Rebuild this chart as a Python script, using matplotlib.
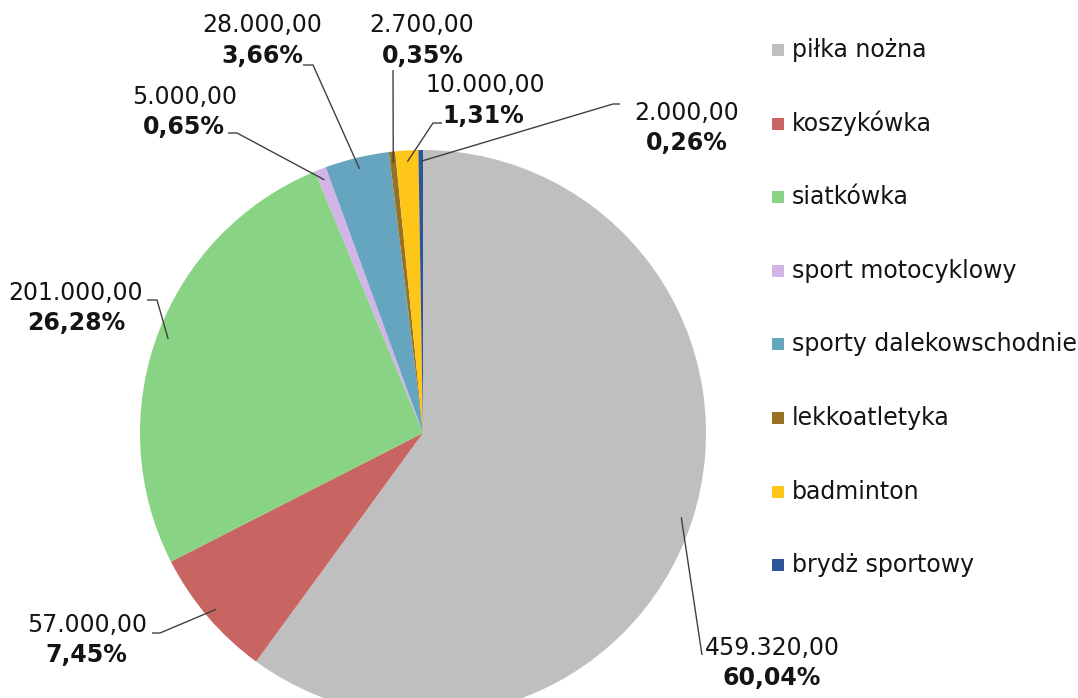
import numpy as np
import matplotlib
matplotlib.use("Agg")
import matplotlib.pyplot as plt
from matplotlib.patches import Rectangle

categories = ["piłka nożna", "koszykówka", "siatkówka", "sport motocyklowy",
              "sporty dalekowschodnie", "lekkoatletyka", "badminton", "brydż sportowy"]
values = [459320.00, 57000.00, 201000.00, 5000.00, 28000.00, 2700.00, 10000.00, 2000.00]
colors = ["#BFBFBF", "#C86461", "#88D484", "#D2B4E6", "#65A5BF", "#977224", "#FFC61A", "#2E5597"]

# label layout (pixel coords): value-text centre, percent-text centre, leader start points
label_val_pos = [(772, 648), (87, 625), (76, 293), (185, 97), (262, 25), (422, 25), (485, 85), (687, 113)]
label_pct_pos = [(772, 678), (86, 655), (76, 323), (184, 127), (262, 56), (423, 56), (483, 116), (687, 143)]
leader_start = [[(702, 655)], [(152, 633), (160, 633)], [(147, 300), (157, 300)],
                [(228, 133), (237, 133)], [(303, 65), (313, 65)], [(393, 70)],
                [(442, 123), (433, 123)], [(620, 104), (613, 104)]]

W, H = 1078, 698
fig = plt.figure(figsize=(W / 100, H / 100), dpi=100)
ax = fig.add_axes([0, 0, 1, 1])
ax.set_xlim(0, W)
ax.set_ylim(0, H)
ax.set_aspect("equal")
ax.axis("off")

def py(y):
    return H - y

cx, cy, R = 423, py(433), 283
wedges, _ = ax.pie(values, colors=colors, startangle=90, counterclock=False,
                   center=(cx, cy), radius=R, frame=True,
                   wedgeprops=dict(linewidth=0))
ax.set_xlim(0, W)
ax.set_ylim(0, H)
ax.axis("off")

# percentages rounded to 0.01 so that they sum to 100 (largest remainder)
total = sum(values)
raw = np.array(values) / total * 10000
fl = np.floor(raw).astype(int)
rem = raw - fl
short = 10000 - fl.sum()
for j in np.argsort(-rem)[:short]:
    fl[j] += 1
pcts = fl / 100

def fmt_pl(v):
    s = f"{v:,.2f}"
    return s.replace(",", " ").replace(".", ",").replace(" ", ".")

txt_color = "#141414"
for i, w in enumerate(wedges):
    mid = np.deg2rad((w.theta1 + w.theta2) / 2)
    ax_x = cx + 0.96 * R * np.cos(mid)
    ax_y = cy + 0.96 * R * np.sin(mid)
    pts = [(x, py(y)) for x, y in leader_start[i]] + [(ax_x, ax_y)]
    xs, ys = zip(*pts)
    ax.plot(xs, ys, color="#404040", lw=1.0, solid_capstyle="butt")
    vx, vy = label_val_pos[i]
    px_, pyy = label_pct_pos[i]
    ax.text(vx, py(vy), fmt_pl(values[i]), ha="center", va="center",
            fontsize=17, color=txt_color)
    pct = f"{pcts[i]:.2f}".replace(".", ",") + "%"
    ax.text(px_, py(pyy), pct, ha="center", va="center", fontsize=17,
            fontweight="bold", color=txt_color)

# legend
leg_y0, leg_dy = 50, 73.6
for i, (c, name) in enumerate(zip(colors, categories)):
    yy = leg_y0 + i * leg_dy
    ax.add_patch(Rectangle((772, py(yy) - 6), 12, 12, facecolor=c, edgecolor="none"))
    ax.text(792, py(yy), name, ha="left", va="center", fontsize=17, color=txt_color)

fig.savefig("out.png", dpi=100)
